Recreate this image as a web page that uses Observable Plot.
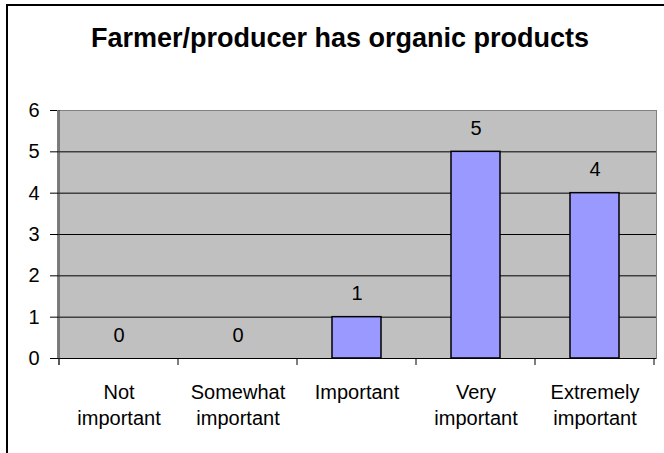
<!DOCTYPE html>
<html>
<head>
<meta charset="utf-8">
<script src="https://cdn.jsdelivr.net/npm/d3@7"></script>
<script src="https://cdn.jsdelivr.net/npm/@observablehq/plot@0.6"></script>
<style>
  html, body { margin: 0; padding: 0; background: #fff; overflow: hidden; }
  #wrap { position: relative; width: 664px; height: 453px; overflow: hidden; font-family: "Liberation Sans", Arial, sans-serif; }
  #border { position: absolute; left: 6px; top: 4px; width: 700px; height: 600px; border-left: 2px solid #000; border-top: 2px solid #000; box-sizing: border-box; }
  #title { position: absolute; left: 0; top: 25px; width: 680px; text-align: center; font-weight: bold; font-size: 27px; line-height: 26px; color: #000; }
  #chart { position: absolute; left: 0; top: 0; }
</style>
</head>
<body>
<div id="wrap">
  <div id="border"></div>
  <div id="chart"></div>
  <div id="title"></div>
</div>
<script>
const title = "Farmer/producer has organic products";
const categories = ["Not important", "Somewhat important", "Important", "Very important", "Extremely important"];
const tickLabels = ["Not\nimportant", "Somewhat\nimportant", "Important", "Very\nimportant", "Extremely\nimportant"];
const values = [0, 0, 1, 5, 4];
const yTicks = [0, 1, 2, 3, 4, 5, 6];

const data = categories.map((c, i) => ({cat: c, value: values[i]}));
document.getElementById("title").textContent = title;

const plot = Plot.plot({
  width: 664,
  height: 453,
  marginLeft: 57,
  marginRight: 8,
  marginTop: 110,
  marginBottom: 95,
  style: {fontFamily: '"Liberation Sans", Arial, sans-serif', fontSize: "20px", color: "#000", background: "transparent"},
  x: {domain: categories, padding: 0, axis: null, label: null},
  y: {domain: [0, 6], axis: null, label: null},
  marks: [
    Plot.frame({fill: "#C0C0C0", stroke: "#808080"}),
    Plot.ruleY(yTicks.filter(t => t > 0 && t < 6), {stroke: "#000", strokeWidth: 1}),
    Plot.barY(data, {filter: d => d.value > 0, x: "cat", y: "value", fill: "#9999FF", stroke: "#000", strokeWidth: 1.5, insetLeft: 35, insetRight: 35}),
    Plot.text(data, {x: "cat", y: "value", text: d => String(d.value), dy: -17, lineAnchor: "bottom", fontSize: 20, fill: "#000"}),
    Plot.ruleY([0], {stroke: "#000", strokeWidth: 1}),
    Plot.axisY({ticks: yTicks, tickSize: 7, tickPadding: 11, fontSize: 20, stroke: "#000", tickFormat: d => String(d), label: null}),
    Plot.axisX({tickSize: 0, tickPadding: 22, lineHeight: 1.3, fontSize: 20, label: null, tickFormat: d => tickLabels[categories.indexOf(d)]})
  ]
});

// category boundary ticks and left axis line, positioned via the plot's own scales
const xs = plot.scale("x");
const ys = plot.scale("y");
const y0 = ys.apply(0), y6 = ys.apply(6);
const bounds = categories.map(c => xs.apply(c)).concat([xs.apply(categories[categories.length - 1]) + xs.bandwidth]);
const g = d3.select(plot).append("g").attr("stroke", "#000").attr("stroke-width", 1);
g.selectAll("line.b").data(bounds).join("line")
  .attr("x1", d => d).attr("x2", d => d).attr("y1", y0).attr("y2", y0 + 7);
g.append("line").attr("x1", bounds[0]).attr("x2", bounds[0]).attr("y1", y6).attr("y2", y0 + 7).attr("stroke", "#333");

document.getElementById("chart").appendChild(plot);
</script>
</body>
</html>
